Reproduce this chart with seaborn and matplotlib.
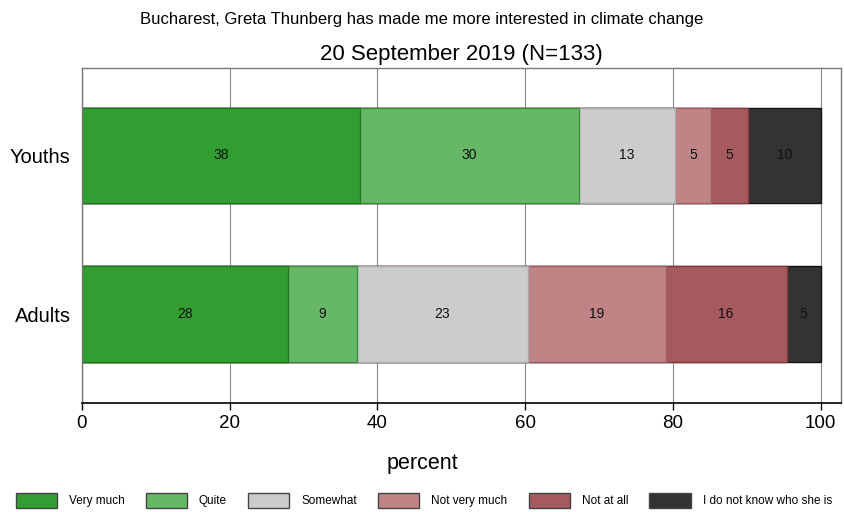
import pandas as pd
import numpy as np
import matplotlib
matplotlib.use("Agg")
import matplotlib.pyplot as plt
import seaborn as sns
from matplotlib.patches import Patch

groups = ["Youths", "Adults"]
answers = ["Very much", "Quite", "Somewhat", "Not very much", "Not at all",
           "I do not know who she is"]
youths = [37.6, 29.7, 13.0, 4.9, 5.0, 9.8]
adults = [27.9, 9.3, 23.2, 18.6, 16.4, 4.6]
colors = ["#329e32", "#66b866", "#cccccc", "#c08386", "#a65a5f", "#333333"]
edges = ["#1f7a1f", "#3f8f3f", "#aaaaaa", "#9a6064", "#7f3a40", "#111111"]

sns.set_style("white")
plt.rcParams["font.family"] = ["Liberation Sans", "DejaVu Sans"]
plt.rcParams["text.color"] = "black"
plt.rcParams["axes.labelcolor"] = "black"
plt.rcParams["xtick.color"] = "black"
plt.rcParams["ytick.color"] = "black"

df = pd.DataFrame({"group": groups})
vals = np.array([youths, adults])
cum = vals.cumsum(axis=1)
for i, a in enumerate(answers):
    df[a] = cum[:, i]

fig = plt.figure(figsize=(8.44, 5.12), dpi=100)
ax = fig.add_axes([0.097, 0.213, 0.899, 0.654])

# draw cumulative bars from the back to the front
for i in range(len(answers) - 1, -1, -1):
    sns.barplot(data=df, x=answers[i], y="group", orient="h", color=colors[i],
                edgecolor=edges[i], linewidth=1, width=0.6, saturation=1, ax=ax)

for r in range(len(groups)):
    for i in range(len(answers)):
        mid = cum[r, i] - vals[r, i] / 2
        ax.text(mid, r, f"{round(vals[r, i]):d}", ha="center", va="center",
                fontsize=10, color="#111111")

ax.set_xlim(0, 102.7)
ax.set_ylim(1.56, -0.55)
ax.set_xticks([0, 20, 40, 60, 80, 100])
ax.set_axisbelow(True)
ax.grid(axis="x", color="#888888", linewidth=0.8)
ax.tick_params(axis="x", direction="out", length=5, width=1, labelsize=13.5,
               bottom=True, color="black")
ax.tick_params(axis="y", length=0, labelsize=14.5, pad=8)
ax.set_xlabel("percent", fontsize=15.5)
ax.xaxis.set_label_coords(0.449, -0.15)
ax.set_ylabel("")
for s in ["top", "right", "left"]:
    ax.spines[s].set_color("#777777")
    ax.spines[s].set_linewidth(1)
ax.spines["bottom"].set_color("black")
ax.spines["bottom"].set_linewidth(1.2)
ax.set_title("20 September 2019 (N=133)", fontsize=16, pad=6)
fig.suptitle("Bucharest, Greta Thunberg has made me more interested in climate change",
             fontsize=12, y=0.977)

handles = [Patch(facecolor=c, edgecolor="#444444", label=a)
           for a, c in zip(answers, colors)]
fig.legend(handles=handles, loc="lower center", bbox_to_anchor=(0.502, -0.012),
           ncol=6, frameon=False, fontsize=8.5, handlelength=3.5,
           handleheight=1.5, columnspacing=1.8, handletextpad=1.0)

fig.savefig("out.png", dpi=100)
